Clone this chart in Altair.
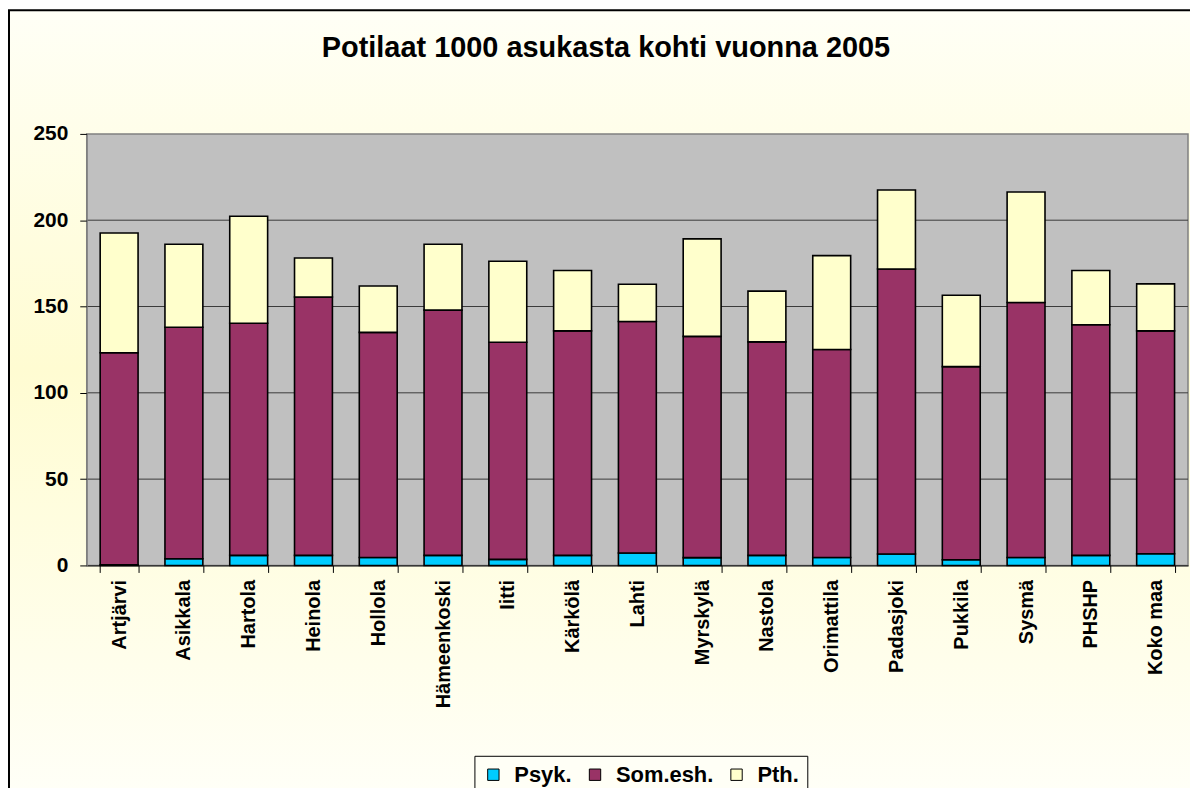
import altair as alt
import pandas as pd

categories = ["Artjärvi", "Asikkala", "Hartola", "Heinola", "Hollola", "Hämeenkoski",
              "Iitti", "Kärkölä", "Lahti", "Myrskylä", "Nastola", "Orimattila",
              "Padasjoki", "Pukkila", "Sysmä", "PHSHP", "Koko maa"]
psyk = [0.3, 3.9, 5.8, 5.8, 4.6, 5.8, 3.5, 5.8, 7.2, 4.5, 5.8, 4.6, 6.6, 3.3, 4.6, 5.8, 6.8]
som = [122.9, 134.1, 134.5, 149.7, 130.4, 142.1, 125.8, 130.1, 134.1, 128.2, 123.7, 120.5,
       165.1, 111.9, 147.7, 133.6, 129.1]
pth = [69.4, 48.1, 62.0, 22.6, 26.9, 38.2, 46.9, 35.0, 21.6, 56.5, 29.4, 54.4, 45.8, 41.3,
       64.0, 31.5, 27.2]
series = ["Psyk.", "Som.esh.", "Pth."]
colors = ["#00CCFF", "#993366", "#FFFFCC"]
y_ticks = [0, 50, 100, 150, 200, 250]
grid_vals = [50, 100, 150, 200]
title_text = "Potilaat 1000 asukasta kohti vuonna 2005"

rows = []
for i, c in enumerate(categories):
    for k, (name, vals) in enumerate(zip(series, [psyk, som, pth])):
        rows.append({"kunta": c, "sarja": name, "arvo": vals[i], "jarj": k})
df = pd.DataFrame(rows)

W, H = 1105, 433
FONT = "Liberation Sans"

bg = alt.Chart(alt.Data(values=[{}])).mark_rect(
    color=alt.Gradient(
        gradient="linear",
        stops=[alt.GradientStop(color="#FFFFF6", offset=0),
               alt.GradientStop(color="#FFFCD2", offset=0.45),
               alt.GradientStop(color="#FFFFF8", offset=1)],
        x1=0, x2=0, y1=0, y2=1),
    stroke="#000000", strokeWidth=2
).encode(x=alt.value(-78), x2=alt.value(W + 3), y=alt.value(-124), y2=alt.value(H + 240))

plotbg = alt.Chart(alt.Data(values=[{}])).mark_rect(
    color="#C0C0C0", stroke="#808080", strokeWidth=1.5
).encode(x=alt.value(0), x2=alt.value(W), y=alt.value(0), y2=alt.value(H))

title = alt.Chart(alt.Data(values=[{"t": title_text}])).mark_text(
    font=FONT, fontSize=29, fontWeight="bold", color="#000000",
    align="center", baseline="middle"
).encode(text="t:N", x=alt.value(521), y=alt.value(-86))

yscale = alt.Scale(domain=[0, 250], nice=False)
y_axis = alt.Axis(values=y_ticks, labelFont=FONT, labelFontSize=21,
                  labelFontWeight="bold", labelColor="#000000", labelPadding=12,
                  tickSize=7, tickColor="#000000", domainColor="#808080",
                  zindex=1, grid=False, title=None)

grid = alt.Chart(pd.DataFrame({"g": grid_vals})).mark_rule(
    color="#3A3A3A", strokeWidth=1
).encode(y=alt.Y("g:Q", scale=yscale, axis=y_axis, title=None))

bars = alt.Chart(df).mark_bar(stroke="#000000", strokeWidth=1.6).encode(
    x=alt.X("kunta:N", sort=categories, title=None,
            scale=alt.Scale(paddingInner=0.415, paddingOuter=0.2075),
            axis=alt.Axis(labelAngle=270, labelAlign="right", labelBaseline="middle",
                          labelFont=FONT, labelFontSize=20, labelFontWeight="bold",
                          labelColor="#000000", labelPadding=7, tickSize=7,
                          tickColor="#000000", domainColor="#000000", tickBand="extent",
                          zindex=1, grid=False)),
    y=alt.Y("arvo:Q", stack="zero", scale=yscale, title=None, axis=y_axis),
    color=alt.Color("sarja:N", scale=alt.Scale(domain=series, range=colors),
                    legend=alt.Legend(title=None, orient="none", direction="horizontal",
                                      legendX=389, legendY=624,
                                      symbolType="square", symbolSize=130,
                                      symbolStrokeColor="#000000", symbolStrokeWidth=1,
                                      labelFont=FONT, labelFontSize=22,
                                      labelFontWeight="bold", labelColor="#000000",
                                      labelOffset=10, columnPadding=12,
                                      padding=8, strokeColor="#000000",
                                      fillColor="#FFFFF6")),
    order=alt.Order("jarj:Q", sort="ascending"),
)

chart = alt.layer(bg, plotbg, grid, bars, title).properties(
    width=W, height=H,
    autosize=alt.AutoSizeParams(type="none"),
    padding={"left": 79, "top": 125, "right": 2, "bottom": 222},
).configure_view(stroke=None)

chart.save("out.html", embed_options={"renderer": "svg", "actions": False})
